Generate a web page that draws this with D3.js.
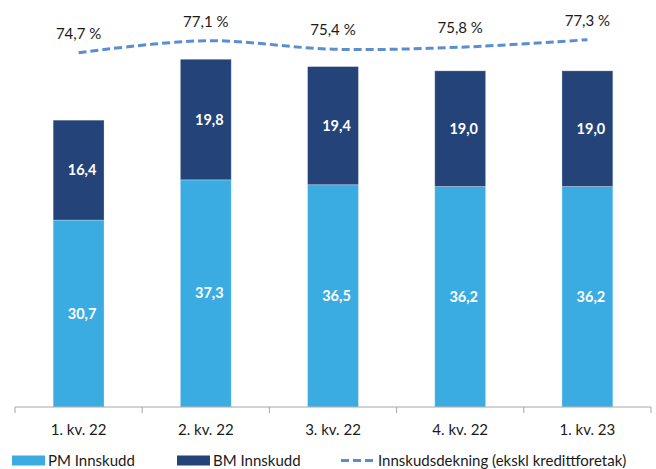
<!DOCTYPE html>
<html>
<head>
<meta charset="utf-8">
<script src="https://cdn.jsdelivr.net/npm/d3@7/dist/d3.min.js"></script>
<style>
  html, body { margin: 0; padding: 0; background: #fff; }
  svg { display: block; font-family: Lato, "Open Sans", sans-serif; }
</style>
</head>
<body>
<svg id="chart" width="656" height="469"></svg>
<script>
// Quarterly deposits (PM / BM) and deposit coverage ratio
const categories = ["1. kv. 22", "2. kv. 22", "3. kv. 22", "4. kv. 22", "1. kv. 23"];
const pmValues = [30.7, 37.3, 36.5, 36.2, 36.2];
const bmValues = [16.4, 19.8, 19.4, 19.0, 19.0];
const coverage = [74.7, 77.1, 75.4, 75.8, 77.3];
const seriesNames = ["PM Innskudd", "BM Innskudd", "Innskudsdekning (ekskl kredittforetak)"];

const colPM = "#3AACE2";
const colBM = "#234379";
const colLine = "#5B8ED0";

const fmt = v => d3.format(".1f")(v).replace(".", ",");

const svg = d3.select("#chart");

const x = d3.scaleBand()
  .domain(categories)
  .range([15, 651])
  .paddingInner(0.6)
  .paddingOuter(0.3);
const step = x.step();

const y = d3.scaleLinear().domain([0, 60]).range([407, 41.6]);
const y2 = d3.scaleLinear().domain([70, 80]).range([76.2, 26.2]);

const stackData = categories.map((c, i) => ({ cat: c, PM: pmValues[i], BM: bmValues[i] }));
const stacked = d3.stack().keys(["PM", "BM"])(stackData);
const colors = { PM: colPM, BM: colBM };

// Bars
stacked.forEach(layer => {
  svg.append("g").selectAll("rect")
    .data(layer)
    .join("rect")
    .attr("x", d => x(d.data.cat))
    .attr("width", x.bandwidth())
    .attr("y", d => y(d[1]))
    .attr("height", d => y(d[0]) - y(d[1]))
    .attr("fill", colors[layer.key])
    .attr("stroke", "rgba(255,255,255,0.35)")
    .attr("stroke-width", 0.8);

  svg.append("g").selectAll("text")
    .data(layer)
    .join("text")
    .attr("x", d => x(d.data.cat) + x.bandwidth() / 2 + 3.5)
    .attr("y", d => (y(d[0]) + y(d[1])) / 2)
    .attr("dy", "0.35em")
    .attr("text-anchor", "middle")
    .attr("fill", "#fff")
    .attr("font-weight", "bold")
    .attr("font-size", 14.5)
    .text(d => fmt(d[1] - d[0]));
});

// X axis
const axisG = svg.append("g").attr("transform", "translate(0,407)");
axisG.append("line")
  .attr("x1", 15).attr("x2", 651)
  .attr("stroke", "#a6a6a6").attr("stroke-width", 1);
const tickXs = d3.range(categories.length + 1).map(i => 15 + i * step);
axisG.selectAll("line.tick")
  .data(tickXs)
  .join("line")
  .attr("class", "tick")
  .attr("x1", d => d).attr("x2", d => d)
  .attr("y1", 0).attr("y2", 6)
  .attr("stroke", "#a6a6a6");
axisG.selectAll("text")
  .data(categories)
  .join("text")
  .attr("x", d => x(d) + x.bandwidth() / 2)
  .attr("y", 23)
  .attr("dy", "0.35em")
  .attr("text-anchor", "middle")
  .attr("font-size", 15)
  .attr("fill", "#1a1a1a")
  .text(d => d);

// Coverage line
const cx = c => x(c) + x.bandwidth() / 2;
const line = d3.line()
  .x((d, i) => cx(categories[i]))
  .y(d => y2(d))
  .curve(d3.curveCatmullRom.alpha(0.5));
svg.append("path")
  .datum(coverage)
  .attr("d", line)
  .attr("fill", "none")
  .attr("stroke", colLine)
  .attr("stroke-width", 3)
  .attr("stroke-dasharray", "8,4");

svg.append("g").selectAll("text")
  .data(coverage)
  .join("text")
  .attr("x", (d, i) => cx(categories[i]))
  .attr("y", d => y2(d) - 19)
  .attr("dy", "0.35em")
  .attr("text-anchor", "middle")
  .attr("font-size", 15)
  .attr("fill", "#1a1a1a")
  .text(d => fmt(d) + " %");

// Legend
const leg = svg.append("g").attr("font-size", 15).attr("fill", "#1a1a1a");
leg.append("rect").attr("x", 12).attr("y", 455.5).attr("width", 33).attr("height", 10).attr("fill", colPM);
leg.append("text").attr("x", 48).attr("y", 460.5).attr("dy", "0.35em").text(seriesNames[0]);
leg.append("rect").attr("x", 177).attr("y", 455.5).attr("width", 33).attr("height", 10).attr("fill", colBM);
leg.append("text").attr("x", 213).attr("y", 460.5).attr("dy", "0.35em").text(seriesNames[1]);
leg.append("line").attr("x1", 341).attr("x2", 376).attr("y1", 460.5).attr("y2", 460.5)
  .attr("stroke", colLine).attr("stroke-width", 3).attr("stroke-dasharray", "8,4");
leg.append("text").attr("x", 378).attr("y", 460.5).attr("dy", "0.35em").text(seriesNames[2]);
</script>
</body>
</html>
